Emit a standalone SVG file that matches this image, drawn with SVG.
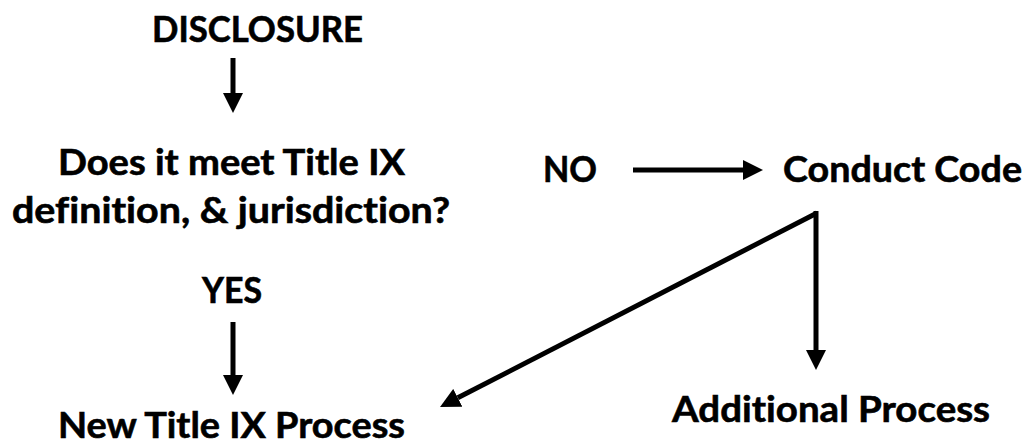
<svg xmlns="http://www.w3.org/2000/svg" width="1027" height="445" viewBox="0 0 1027 445">
<style>
  text { font-family: Lato, "Liberation Sans", sans-serif; font-weight: 700; font-size: 36px; fill: #000; stroke: #000; stroke-width: 0.6; font-variant-ligatures: none; font-feature-settings: "liga" 0; }
  .conn { stroke: #000; stroke-width: 5; fill: none; stroke-linecap: butt; }
</style>
<defs>
  <marker id="ah" markerUnits="userSpaceOnUse" markerWidth="20" markerHeight="20" refX="0" refY="10" orient="auto" viewBox="0 0 20 20">
    <path d="M0,0 L20,10 L0,20 z" fill="#000"/>
  </marker>
</defs>
<rect width="1027" height="445" fill="#fff"/>
<g id="connectors">
  <line class="conn" x1="233" y1="58" x2="233" y2="93" marker-end="url(#ah)"/>
  <line class="conn" x1="233" y1="322" x2="233" y2="375" marker-end="url(#ah)"/>
  <line class="conn" x1="633" y1="170" x2="743" y2="170" stroke-width="6" marker-end="url(#ah)"/>
  <path class="conn" d="M816,211 L816,350" marker-end="url(#ah)"/>
  <path class="conn" d="M817,213 L457.8,397.8" marker-end="url(#ah)"/>
</g>
<g id="disclosure"><text x="152" y="42" textLength="211" lengthAdjust="spacingAndGlyphs">DISCLOSURE</text></g>
<g id="question">
  <text x="58" y="175" textLength="347" lengthAdjust="spacingAndGlyphs">Does it meet Title IX</text>
  <text x="12" y="223" textLength="438" lengthAdjust="spacingAndGlyphs">definition, &amp; jurisdiction?</text>
</g>
<g id="no"><text x="543" y="182" textLength="54" lengthAdjust="spacingAndGlyphs">NO</text></g>
<g id="conduct-code"><text x="783" y="182" textLength="239" lengthAdjust="spacingAndGlyphs">Conduct Code</text></g>
<g id="yes"><text x="202" y="303" textLength="60" lengthAdjust="spacingAndGlyphs">YES</text></g>
<g id="new-title-ix"><text x="58" y="438" textLength="347" lengthAdjust="spacingAndGlyphs">New Title IX Process</text></g>
<g id="additional"><text x="672" y="422" textLength="318" lengthAdjust="spacingAndGlyphs">Additional Process</text></g>
</svg>
